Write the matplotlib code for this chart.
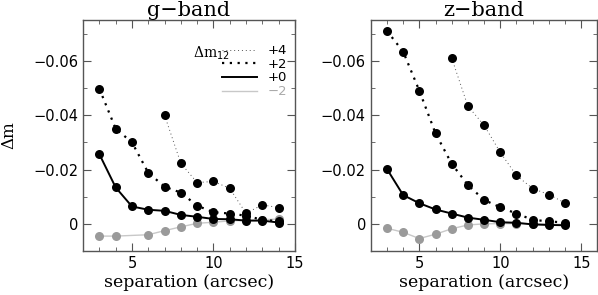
import numpy as np
import matplotlib.pyplot as plt
from matplotlib.ticker import MultipleLocator

sep = [3, 4, 5, 6, 7, 8, 9, 10, 11, 12, 13, 14]
sep4 = [7, 8, 9, 10, 11, 12, 13, 14]
sep_g_m2 = [3, 4, 6, 7, 8, 9, 10, 11, 12, 13, 14]

# g-band
g_p4 = [-0.040, -0.0223, -0.0152, -0.0156, -0.0131, -0.0039, -0.0070, -0.0060]
g_p2 = [-0.0497, -0.0350, -0.0300, -0.0188, -0.0137, -0.0115, -0.0067, -0.0043,
        -0.0038, -0.0030, -0.0015, -0.0010]
g_p0 = [-0.0256, -0.0134, -0.0064, -0.0052, -0.0048, -0.0033, -0.0026, -0.0018,
        -0.0017, -0.0012, -0.0012, -0.0005]
g_m2 = [0.0045, 0.0045, 0.0040, 0.0025, 0.0011, -0.0002, -0.0006, -0.0011,
        -0.0013, -0.0015, -0.0018]

# z-band
z_p4 = [-0.0610, -0.0433, -0.0363, -0.0263, -0.0178, -0.0130, -0.0108, -0.0077]
z_p2 = [-0.0710, -0.0634, -0.0490, -0.0333, -0.0221, -0.0143, -0.0088, -0.0061,
        -0.0038, -0.0015, -0.0009, -0.0005]
z_p0 = [-0.0202, -0.0106, -0.0076, -0.0053, -0.0038, -0.0023, -0.0015, -0.0006,
        -0.0004, 0.0002, 0.0004, 0.0005]
z_m2 = [0.0016, 0.0031, 0.0054, 0.0038, 0.0018, 0.0004, 0.0000, -0.0001,
        -0.0001, 0.0000, 0.0001, 0.0002]

labels = ['+4', '+2', '+0', '\u22122']

# line styles for +4, +2, +0, -2
styles = [dict(color='#555555', lw=0.7, ls=(0, (1, 3))),
          dict(color='black', lw=1.6, ls=(0, (1, 2.5))),
          dict(color='black', lw=1.4, ls='-'),
          dict(color='#c8c8c8', lw=1.0, ls='-')]

fig = plt.figure(figsize=(5.98, 2.95), dpi=100)
ax1 = fig.add_axes([0.139, 0.149, 0.354, 0.783])
ax2 = fig.add_axes([0.620, 0.149, 0.379, 0.783])

spine_c = '#555555'
mk = dict(marker='o', markersize=6.5, markeredgewidth=0)

def panel(ax, title, p4, p2, p0, m2, xm2, xmax):
    ax.plot(xm2, m2, zorder=1, **styles[3])
    ax.plot(xm2, m2, ls='none', color='#9a9a9a', zorder=2, **mk)
    ax.plot(sep, p0, zorder=3, mfc='black', **styles[2], **mk)
    ax.plot(sep, p2, zorder=3, mfc='black', **styles[1], **mk)
    ax.plot(sep4, p4, zorder=3, mfc='black', **styles[0], **mk)
    ax.set_xlim(2, xmax)
    ax.set_ylim(0.01, -0.075)
    ax.xaxis.set_major_locator(MultipleLocator(5))
    ax.xaxis.set_minor_locator(MultipleLocator(1))
    ax.yaxis.set_minor_locator(MultipleLocator(0.01))
    ax.set_yticks([-0.06, -0.04, -0.02, 0])
    ax.set_yticklabels(['\u22120.06', '\u22120.04', '\u22120.02', '0'])
    ax.tick_params(which='both', direction='in', top=True, right=True,
                   color=spine_c, labelsize=10.5)
    ax.tick_params(which='major', length=6)
    ax.tick_params(which='minor', length=3)
    for s in ax.spines.values():
        s.set_color(spine_c)
        s.set_linewidth(1.0)
    ax.set_title(title, family='DejaVu Serif', fontsize=15, pad=2)
    ax.set_xlabel('separation (arcsec)', family='DejaVu Serif', fontsize=12.5,
                  labelpad=2)

panel(ax1, 'g\u2212band', g_p4, g_p2, g_p0, g_m2, sep_g_m2, 15)
panel(ax2, 'z\u2212band', z_p4, z_p2, z_p0, z_m2, sep, 16)
ax1.set_ylabel('\u0394m', family='DejaVu Serif', fontsize=12)
ax1.yaxis.set_label_coords(-0.31, 0.5)

handles = [plt.Line2D([], [], **st) for st in styles]
leg = ax1.legend(handles, labels, loc='upper right', bbox_to_anchor=(1.0, 0.93),
                 frameon=False, handlelength=2.6, handletextpad=0.8,
                 labelspacing=0.05, fontsize=9.5, borderaxespad=0.2)
leg.get_texts()[3].set_color('#aaaaaa')
ax1.text(0.52, 0.855, '\u0394m$_{12}$', transform=ax1.transAxes, fontsize=10,
         family='DejaVu Serif', va='center', ha='left')

fig.savefig('out.png', dpi=100)
